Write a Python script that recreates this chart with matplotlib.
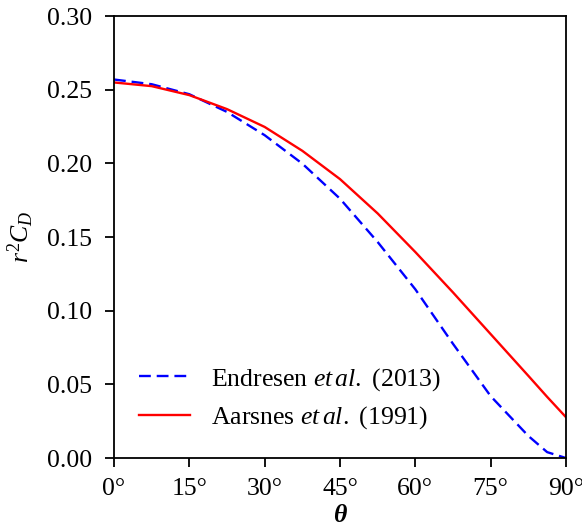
import numpy as np
import matplotlib
matplotlib.use("Agg")
import matplotlib.pyplot as plt

plt.rcParams['font.family'] = ['Liberation Serif', 'DejaVu Serif']
plt.rcParams['mathtext.fontset'] = 'custom'
plt.rcParams['mathtext.rm'] = 'Liberation Serif'
plt.rcParams['mathtext.it'] = 'Liberation Serif:italic'
plt.rcParams['mathtext.bf'] = 'Liberation Serif:bold'

# values (theta in degrees)
theta = [0, 7.5, 15, 22.5, 30, 37.5, 45, 52.5, 60, 67.5, 75, 82.5, 86.25, 90]
endresen = [0.2569, 0.2537, 0.2469, 0.2349, 0.2191, 0.1998, 0.1760, 0.1466,
            0.1145, 0.0775, 0.0420, 0.0150, 0.0040, 0.0]
aarsnes = [0.2549, 0.2524, 0.2463, 0.2368, 0.2247, 0.2085, 0.1893, 0.1660,
           0.1398, 0.1124, 0.0841, 0.0558, 0.0415, 0.0277]

xticks = [0, 15, 30, 45, 60, 75, 90]
xticklabels = ['0°', '15°', '30°', '45°', '60°', '75°', '90°']
yticks = [0.00, 0.05, 0.10, 0.15, 0.20, 0.25, 0.30]

fig = plt.figure(figsize=(5.82, 5.30), dpi=100)
ax = fig.add_axes([0.1959, 0.1358, 0.7766, 0.834])

ax.plot(theta, endresen, color='blue', lw=1.7, linestyle=(0, (5, 2.5)),
        label=r'Endresen $et\,al.$ (2013)')
ax.plot(theta, aarsnes, color='red', lw=1.7, label=r'Aarsnes $et\,al.$ (1991)')

ax.set_xlim(0, 90)
ax.set_ylim(0, 0.30)
ax.set_xticks(xticks)
ax.set_xticklabels(xticklabels)
ax.set_yticks(yticks)
ax.set_yticklabels(['%.2f' % v for v in yticks])
ax.tick_params(direction='out', length=6.5, width=1.3, labelsize=18.5)
ax.tick_params(axis='x', pad=8)
ax.tick_params(axis='y', pad=9)
for sp in ax.spines.values():
    sp.set_linewidth(1.3)

ax.set_xlabel('θ', fontsize=18.5, fontweight='bold', style='italic', labelpad=3)
ax.set_ylabel(r'$r^2C_D$', fontsize=18.5, labelpad=8)

ax.legend(loc='lower left', frameon=False, fontsize=18.5, handlelength=2.0,
          handletextpad=0.8, labelspacing=0.45, borderaxespad=0.3,
          bbox_to_anchor=(0.015, 0.02))

fig.savefig('out.png', dpi=100)
